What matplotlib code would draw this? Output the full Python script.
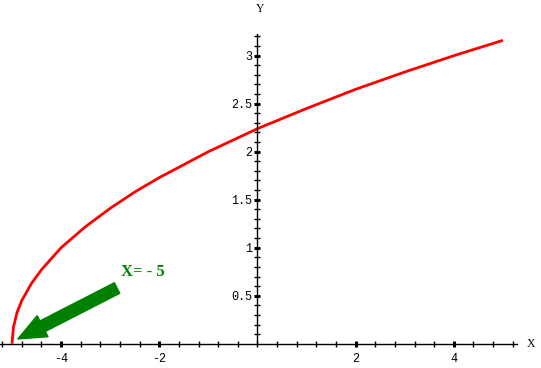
import numpy as np
import matplotlib.pyplot as plt
from matplotlib.ticker import FixedLocator

# curve values
x_vals = [-5.0, -4.97, -4.9, -4.8, -4.6, -4.4, -4.0, -3.5, -3.0, -2.5, -2.0, -1.0, 0.0, 1.0, 2.0, 3.0, 4.0, 5.0]
y_vals = [0.0, 0.17, 0.32, 0.45, 0.63, 0.77, 1.0, 1.22, 1.41, 1.58, 1.73, 2.0, 2.24, 2.45, 2.65, 2.83, 3.0, 3.16]

x_major = [-4, -2, 2, 4]
y_major = [0.5, 1, 1.5, 2, 2.5, 3]

fig = plt.figure(figsize=(5.41, 3.68), dpi=100)
ax = fig.add_axes([0, 0, 1, 1])
ax.set_xlim(-5.244, 5.775)
ax.set_ylim(-0.253, 3.58)

ax.plot(x_vals, y_vals, color='red', lw=2, solid_capstyle='butt')

# axes through the origin
for s in ['top', 'right']:
    ax.spines[s].set_visible(False)
ax.spines['left'].set_position(('data', 0))
ax.spines['bottom'].set_position(('data', 0))
ax.spines['left'].set_bounds(0, 3.23)
ax.spines['bottom'].set_bounds(-5.244, 5.28)
ax.spines['left'].set_linewidth(1)
ax.spines['bottom'].set_linewidth(1)

ax.xaxis.set_major_locator(FixedLocator(x_major))
ax.yaxis.set_major_locator(FixedLocator(y_major))
ax.xaxis.set_minor_locator(FixedLocator(np.arange(-5.2, 5.3, 0.4)))
ax.yaxis.set_minor_locator(FixedLocator(np.arange(0.1, 3.25, 0.1)))
ax.set_xticklabels([str(v) for v in x_major])
ax.set_yticklabels([f'{v:g}' for v in y_major])
ax.tick_params(which='major', direction='inout', length=5, width=2.2, labelsize=8.5)
ax.tick_params(axis='x', which='major', pad=4)
ax.tick_params(axis='y', which='major', pad=1)
ax.tick_params(which='minor', direction='inout', length=5, width=1)
for lab in ax.get_xticklabels() + ax.get_yticklabels():
    lab.set_fontfamily('Liberation Mono')

ax.text(0.05, 3.49, 'Y', ha='center', va='center', fontsize=8.5, family='Liberation Serif')
ax.text(5.57, 0.0, 'X', ha='center', va='center', fontsize=8.5, family='Liberation Serif')

# green arrow and note
ax.annotate('', xy=(-4.88, 0.05), xytext=(-2.86, 0.58),
            arrowprops=dict(arrowstyle='simple,head_length=20,head_width=17,tail_width=8.5',
                            mutation_scale=1, color='green', shrinkA=0, shrinkB=0))
ax.text(-2.77, 0.75, 'X= - 5', color='green', fontsize=12, fontweight='bold',
        family='Liberation Serif', ha='left', va='center')

fig.savefig('out.png', dpi=100)
